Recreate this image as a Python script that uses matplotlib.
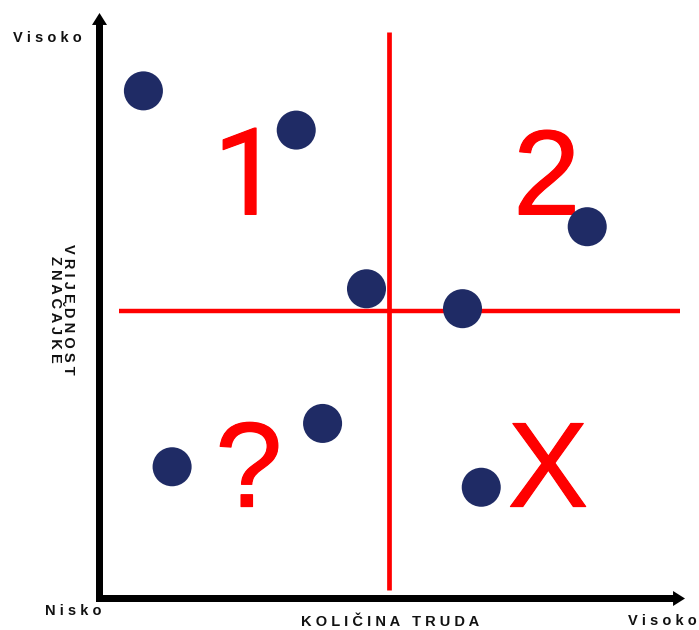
import matplotlib
matplotlib.use("Agg")
import matplotlib.pyplot as plt
import matplotlib.patheffects as pe
from matplotlib.patches import FancyArrowPatch, ArrowStyle

# ---- data (effort vs. feature value, 0..10 scale) ----
effort = [0.75, 3.36, 4.56, 6.20, 8.33, 3.81, 1.24, 6.52]
value = [8.67, 8.00, 5.29, 4.95, 6.35, 2.99, 2.25, 1.90]

quad_labels = ["1", "2", "?", "X"]
quad_x = [2.52, 7.64, 2.55, 7.66]
quad_y = [6.56, 6.56, 1.57, 1.57]
quad_fonts = ["Roboto", "Liberation Sans", "Liberation Sans", "Liberation Sans"]

split_x = 4.94
split_y = 4.91

x_title = "KOLIČINA TRUDA"
y_title = ["VRIJEDNOST", "ZNAČAJKE"]
low_label = "Nisko"
high_label = "Visoko"

W, H = 699, 630
fig = plt.figure(figsize=(W / 100, H / 100), dpi=100)
ax = fig.add_axes([99.5 / W, (H - 598.5) / H, 585.5 / W, 585.5 / H])
ax.set_xlim(0, 10)
ax.set_ylim(0, 10)
ax.axis("off")

FONT = "Liberation Sans"
RED = "#ff0000"
NAVY = "#1f2b65"


def track(s):
    return "   ".join(" ".join(w) for w in s.split())


# axis arrows
style = ArrowStyle("Simple", head_length=0.86, head_width=1.08, tail_width=0.504)
ext = 3.5 / 58.55
for a, b in [((-ext, 0), (10, 0)), ((0, -ext), (0, 10))]:
    arr = FancyArrowPatch(a, b, arrowstyle=style, mutation_scale=10,
                          color="black", lw=0, shrinkA=0, shrinkB=0,
                          clip_on=False, zorder=3)
    ax.add_patch(arr)

# quadrant lines
ax.plot([split_x, split_x], [0.15, 9.68], color=RED, lw=3.4,
        solid_capstyle="butt", clip_on=False, zorder=2)
ax.plot([0.33, 9.91], [split_y, split_y], color=RED, lw=3.2,
        solid_capstyle="butt", clip_on=False, zorder=2)

# quadrant labels
for t, x, y, f in zip(quad_labels, quad_x, quad_y, quad_fonts):
    ax.text(x, y, t, color=RED, fontsize=87, family=f,
            ha="center", va="baseline", zorder=2,
            path_effects=[pe.withStroke(linewidth=0.8, foreground=RED)])

# points
ax.scatter(effort, value, s=790, color=NAVY, edgecolors="none",
           zorder=4, clip_on=False)

# labels
fs = 10.5
kw = dict(fontsize=fs, family=FONT, fontweight="bold", color="#111111")
fig.text(13 / W, 1 - 38 / H, track(high_label), ha="left", va="center", **kw)
fig.text(45 / W, 1 - 611 / H, track(low_label), ha="left", va="center", **kw)
fig.text(697 / W, 1 - 621 / H, track(high_label), ha="right", va="center", **kw)
fig.text(390 / W, 1 - 622 / H, track(x_title), ha="center", va="center", **kw)
fig.text(68 / W, 1 - 309 / H, track(y_title[0]), ha="center", va="center",
         rotation=-90, **kw)
fig.text(55 / W, 1 - 309 / H, track(y_title[1]), ha="center", va="center",
         rotation=-90, **kw)

fig.savefig("out.png", dpi=100, facecolor="white")
